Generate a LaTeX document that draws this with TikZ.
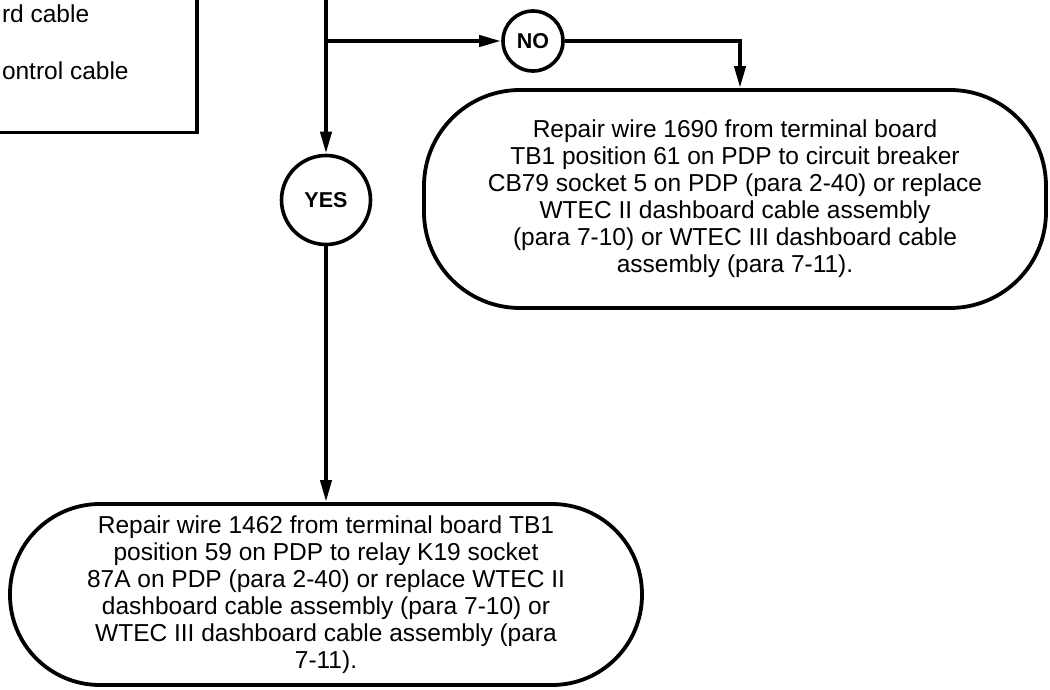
\documentclass[tikz,border=0pt]{standalone}
\usepackage{fontspec}
\setmainfont{Liberation Sans}
\setsansfont{Liberation Sans}
\usetikzlibrary{arrows.meta, positioning}
\tikzset{
  tsd/.style={
    x=1pt, y=-1pt,
    font=\sffamily\fontsize{24.5}{27}\selectfont,
    >={Triangle[length=22pt, width=11pt]},
    line width=4pt,
  },
  action/.style={
    draw, rectangle, line width=3.8pt, inner sep=0pt, align=center,
  },
  answer/.style={
    draw, circle, line width=3.6pt, inner sep=0pt,
    font=\sffamily\bfseries\fontsize{21.5}{24}\selectfont,
  },
  prevbox/.style={draw, rectangle, line width=3.3pt, inner sep=0pt},
  boxline/.style={anchor=base west, inner sep=0pt},
  flow/.style={->, draw},
}
\begin{document}
\begin{tikzpicture}[tsd]
  \useasboundingbox (0,0) rectangle (1050,690);
  \clip (0,0) rectangle (1050,690);

  % step above, cut off by the frame
  \node[prevbox, minimum width=260pt, minimum height=200pt, anchor=south east] (check) at (198.5,134.5) {};
  \node[boxline] (line1) at (0,23) {rd cable};
  \node[boxline] (line2) at (0,80) {ontrol cable};

  \coordinate (feed) at (326,-10);
  \coordinate (split) at (326,41);
  \node[answer, minimum size=60pt] (no) at (533,41) {NO};
  \node[answer, minimum size=89pt] (yes) at (326,200) {YES};

  \node[action, rounded corners=96pt, minimum width=622pt, minimum height=218pt] (fix1690) at (735,199)
    {Repair wire 1690 from terminal board\\TB1 position 61 on PDP to circuit breaker\\CB79 socket 5 on PDP (para 2-40) or replace\\WTEC II dashboard cable assembly\\(para 7-10) or WTEC III dashboard cable\\assembly (para 7-11).};
  \node[action, rounded corners=90pt, minimum width=632pt, minimum height=181pt] (fix1462) at (326,594.5)
    {Repair wire 1462 from terminal board TB1\\position 59 on PDP to relay K19 socket\\87A on PDP (para 2-40) or replace WTEC II\\dashboard cable assembly (para 7-10) or\\WTEC III dashboard cable assembly (para\\7-11).};

  \draw[flow] (feed) -- (yes);
  \draw[flow] (split) -- (no);
  \draw[flow] (no) -| ([xshift=5pt]fix1690.north);
  \draw[flow] (yes) -- (fix1462);
\end{tikzpicture}
\end{document}
